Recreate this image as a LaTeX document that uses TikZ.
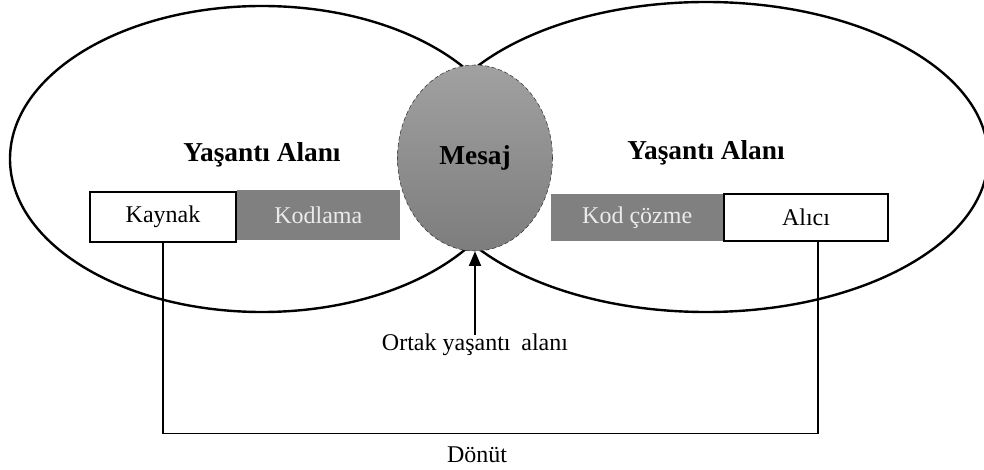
\documentclass[tikz,border=0pt]{standalone}
\usepackage{fontspec}
\setmainfont{Liberation Serif}
\usetikzlibrary{positioning,shapes.geometric,arrows.meta}

\begin{document}
\begin{tikzpicture}[x=0.75pt,y=-0.75pt,
	every node/.style={font=\fontsize{18}{21}\selectfont},
	area/.style={line width=1.8pt},
	heading/.style={font=\fontsize{20.5}{24}\selectfont\bfseries},
	whitebox/.style={draw=black,fill=white,line width=0.8pt,inner sep=0pt,minimum height=37.5pt},
	graybox/.style={fill=black!50,text=white!92!black,inner sep=0pt,minimum height=37.5pt},
	message/.style={ellipse,draw=black!80,densely dashed,thin,top color=black!37,bottom color=black!51,
		inner sep=0pt,minimum width=116.25pt,minimum height=139.5pt},
	pointer/.style={line width=1.4pt,-{Triangle[length=11pt,width=9pt]}},
	feedback/.style={line width=0.8pt}]

	\useasboundingbox (0,0) rectangle (984,470);

	% Experience areas
	\draw[area] (262,159) ellipse [x radius=189pt, y radius=114.75pt];
	\draw[area] (706,157) ellipse [x radius=211.5pt, y radius=116.25pt];

	\node[heading] (leftarea) at (262,155) {Yaşantı Alanı};
	\node[heading] (rightarea) at (706,153) {Yaşantı Alanı};

	% Source side
	\node[whitebox,minimum width=109.5pt] (kaynak) at (163,217) {Kaynak};
	\node[graybox,minimum width=122.25pt,right=0pt of kaynak,yshift=1.5pt] (kodlama) {Kodlama};

	% Receiver side
	\node[whitebox,minimum width=123pt,minimum height=35.25pt] (alici) at (806,217.5) {Alıcı};
	\node[graybox,minimum width=129pt,minimum height=35.25pt,left=0pt of alici] (kodcozme) {Kod çözme};

	% Message
	\node[message] (mesaj) at (475,158) {\fontsize{20.5}{24}\selectfont\bfseries Mesaj};

	\node (ortak) at (475,345) {Ortak yaşantı\hspace{0.2em} alanı};
	\draw[pointer] ([yshift=-4pt]ortak.north) -- (mesaj.south);

	% Feedback
	\draw[feedback] (kaynak.south) -- ++(0,191) -| ([xshift=9pt]alici.south);
	\node (donut) at (477,455) {Dönüt};

\end{tikzpicture}
\end{document}
